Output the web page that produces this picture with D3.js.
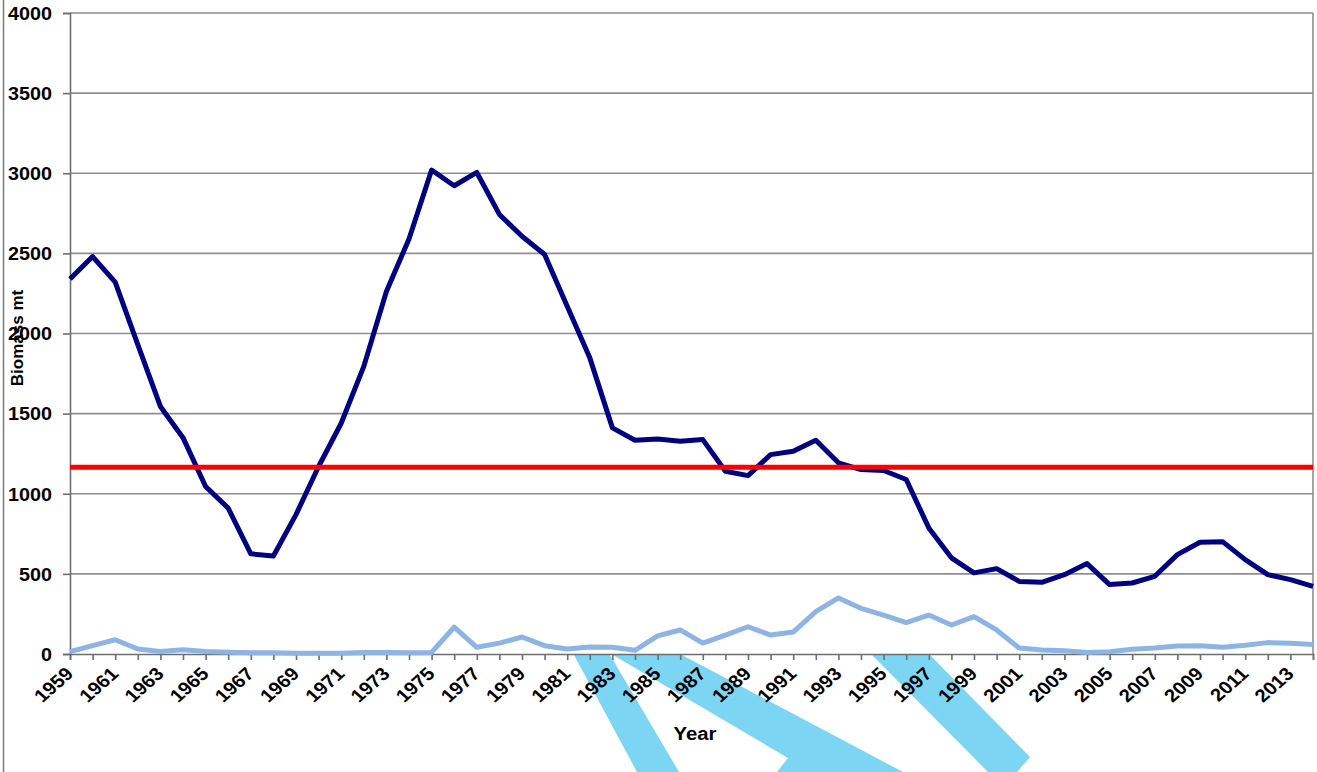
<!DOCTYPE html>
<html>
<head>
<meta charset="utf-8">
<script src="https://cdn.jsdelivr.net/npm/d3@7"></script>
<style>
    body { margin: 0; background: #fff; }
    svg { display: block; }
    text { font-family: "Liberation Sans", Arial, sans-serif; font-weight: bold; fill: #000; }
</style>
</head>
<body>
<svg width="1317" height="772"></svg>
<script>

// years on the category axis
var years = [1959, 1960, 1961, 1962, 1963, 1964, 1965, 1966, 1967, 1968,
    1969, 1970, 1971, 1972, 1973, 1974, 1975, 1976, 1977, 1978,
    1979, 1980, 1981, 1982, 1983, 1984, 1985, 1986, 1987, 1988,
    1989, 1990, 1991, 1992, 1993, 1994, 1995, 1996, 1997, 1998,
    1999, 2000, 2001, 2002, 2003, 2004, 2005, 2006, 2007, 2008,
    2009, 2010, 2011, 2012, 2013, 2014];

// dark series (biomass, mt)
var biomass = [2340, 2480, 2320, 1930, 1545, 1350, 1045, 910, 625, 612,
    870, 1170, 1440, 1795, 2262, 2590, 3020, 2922, 3005, 2743,
    2607, 2493, 2170, 1848, 1411, 1334, 1342, 1327, 1338, 1140,
    1113, 1244, 1265, 1334, 1193, 1151, 1145, 1089, 787, 600,
    506, 533, 453, 447, 495, 564, 433, 443, 485, 620,
    697, 701, 589, 495, 464, 422];

// light series
var lightSeries = [15, 52, 89, 31, 15, 27, 15, 11, 8, 8,
    5, 5, 5, 10, 10, 8, 10, 167, 42, 68,
    106, 52, 31, 44, 42, 23, 113, 150, 68, 118,
    170, 118, 137, 264, 350, 285, 243, 196, 243, 181,
    233, 150, 37, 25, 21, 10, 14, 29, 37, 50,
    52, 42, 54, 71, 67, 60];

// horizontal reference level
var refLevel = 1165;

var yTicks = [0, 500, 1000, 1500, 2000, 2500, 3000, 3500, 4000];

// pasted-on arrow shapes (page pixels)
var arrows = [
    [[574, 655], [610, 655], [679, 772], [637, 772]],
    [[613, 655], [682, 655], [903, 772], [777, 772], [788, 758]],
    [[872, 655], [930, 655], [1030, 757], [1017, 772], [988, 772]]
];

window.onload = function() {
    makeChart();
}

function makeChart() {

    var svg = d3.select("svg");

    var left = 70, right = 1313, top = 13, bottom = 654;

    // the source picture is a little wider than tall, so text is stretched sideways
    var stretch = "scale(1.13,1)";

    var x = d3.scaleLinear()
        .domain([years[0], years[years.length - 1]])
        .range([left, right]);

    var y = d3.scaleLinear()
        .domain([0, 4000])
        .range([bottom, top]);

    // outer frame edge on the left
    svg.append("line")
        .attr("x1", 3.5).attr("x2", 3.5)
        .attr("y1", 0).attr("y2", 772)
        .attr("stroke", "#7a7a7a")
        .attr("stroke-width", 1.5);

    // gridlines
    svg.append("g")
        .selectAll("line")
        .data(yTicks.filter(function(d) { return d > 0; }))
        .enter().append("line")
        .attr("x1", left).attr("x2", right)
        .attr("y1", function(d) { return y(d); })
        .attr("y2", function(d) { return y(d); })
        .attr("stroke", "#8f8f8f")
        .attr("stroke-width", 1.6);

    // right border
    svg.append("line")
        .attr("x1", right).attr("x2", right)
        .attr("y1", top).attr("y2", bottom)
        .attr("stroke", "#8f8f8f")
        .attr("stroke-width", 1.6);

    // arrows sit under the axis text
    svg.append("g")
        .selectAll("path")
        .data(arrows)
        .enter().append("path")
        .attr("d", function(d) { return "M" + d.join("L") + "Z"; })
        .attr("fill", "#7dd5f4");

    // y axis
    var yAxis = svg.append("g")
        .attr("transform", "translate(" + left + ",0)")
        .call(d3.axisLeft(y).tickValues(yTicks).tickSize(7).tickFormat(d3.format("d")));
    yAxis.select(".domain").attr("stroke", "#6e6e6e").attr("stroke-width", 1.6);
    yAxis.selectAll(".tick line").attr("stroke", "#6e6e6e").attr("stroke-width", 1.6);
    yAxis.selectAll("text")
        .attr("x", 0)
        .attr("dy", "0.36em")
        .attr("transform", "translate(-18,0) " + stretch)
        .style("font-size", "17.5px")
        .style("font-family", "'Liberation Sans', Arial, sans-serif")
        .style("font-weight", "bold");

    // x axis, a label on every other year
    var xAxis = svg.append("g")
        .attr("transform", "translate(0," + bottom + ")")
        .call(d3.axisBottom(x)
            .tickValues(years)
            .tickSize(6)
            .tickFormat(function(d) { return (d - years[0]) % 2 === 0 ? d : ""; }));
    xAxis.select(".domain").attr("stroke", "#6e6e6e").attr("stroke-width", 1.6);
    xAxis.selectAll(".tick line").attr("stroke", "#6e6e6e").attr("stroke-width", 1.6);
    xAxis.selectAll("text")
        .attr("x", 0)
        .attr("y", 0)
        .attr("dy", 0)
        .attr("transform", "translate(4,21) " + stretch + " rotate(-45)")
        .style("text-anchor", "end")
        .style("font-size", "18px")
        .style("font-family", "'Liberation Sans', Arial, sans-serif")
        .style("font-weight", "bold");

    var line = d3.line()
        .x(function(d) { return x(d[0]); })
        .y(function(d) { return y(d[1]); });

    // light series
    svg.append("path")
        .datum(years.map(function(yr, i) { return [yr, lightSeries[i]]; }))
        .attr("d", line)
        .attr("fill", "none")
        .attr("stroke", "#8db4e3")
        .attr("stroke-width", 5)
        .attr("stroke-linejoin", "round");

    // dark series
    svg.append("path")
        .datum(years.map(function(yr, i) { return [yr, biomass[i]]; }))
        .attr("d", line)
        .attr("fill", "none")
        .attr("stroke", "#000080")
        .attr("stroke-width", 5)
        .attr("stroke-linejoin", "round");

    // reference level
    svg.append("line")
        .attr("x1", left).attr("x2", right)
        .attr("y1", y(refLevel)).attr("y2", y(refLevel))
        .attr("stroke", "#ff0000")
        .attr("stroke-width", 5);

    // axis titles
    svg.append("text")
        .attr("transform", "translate(695,740) " + stretch)
        .attr("text-anchor", "middle")
        .style("font-size", "18px")
        .text("Year");

    svg.append("text")
        .attr("transform", "translate(23,338) rotate(-90)")
        .attr("text-anchor", "middle")
        .style("font-size", "17px")
        .text("Biomass mt");
}
</script>
</body>
</html>
